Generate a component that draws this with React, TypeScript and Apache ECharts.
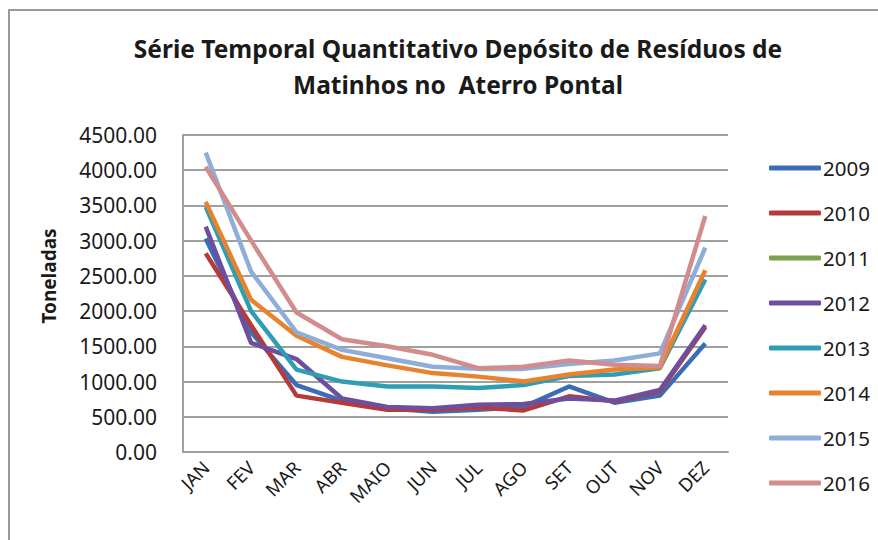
import React, { useEffect, useRef } from "react";
import * as echarts from "echarts";

const categories = ["JAN", "FEV", "MAR", "ABR", "MAIO", "JUN", "JUL", "AGO", "SET", "OUT", "NOV", "DEZ"];
const yTicks = [0, 500, 1000, 1500, 2000, 2500, 3000, 3500, 4000, 4500];
const years = ["2009", "2010", "2011", "2012", "2013", "2014", "2015", "2016"];
const s2009 = [3030, 1700, 950, 730, 620, 570, 600, 640, 930, 700, 800, 1540];
const s2010 = [2820, 1800, 800, 700, 600, 600, 630, 590, 790, 720, 860, 1770];
const s2011: (number | null)[] = [null, null, null, null, null, null, null, null, null, null, null, null];
const s2012 = [3200, 1550, 1320, 760, 640, 620, 670, 680, 760, 730, 880, 1800];
const s2013 = [3480, 2000, 1170, 1000, 930, 930, 910, 950, 1080, 1100, 1190, 2450];
const s2014 = [3550, 2160, 1650, 1350, 1230, 1120, 1070, 1000, 1100, 1170, 1200, 2580];
const s2015 = [4250, 2560, 1700, 1450, 1330, 1210, 1180, 1180, 1250, 1300, 1400, 2900];
const s2016 = [4050, 3000, 1980, 1600, 1500, 1380, 1190, 1210, 1300, 1240, 1220, 3350];
const seriesData = [s2009, s2010, s2011, s2012, s2013, s2014, s2015, s2016];
const colors = ["#3A6DB5", "#B73A3A", "#7FA14E", "#6E4E9E", "#2F9DB4", "#E8822E", "#8FADD9", "#D38C8C"];

const FONT = "'Noto Sans', sans-serif";

export default function App() {
  const ref = useRef<HTMLDivElement>(null);
  useEffect(() => {
    if (!ref.current) return;
    const chart = echarts.init(ref.current, undefined, { renderer: "svg" });
    chart.setOption({
      animation: false,
      backgroundColor: "#ffffff",
      color: colors,
      textStyle: { fontFamily: FONT },
      grid: { left: 183, top: 135, right: 150, bottom: 88, containLabel: false },
      graphic: [
        {
          type: "rect",
          shape: { x: 9, y: 10, width: 1000, height: 1000 },
          style: { fill: "none", stroke: "#9a9a9a", lineWidth: 2 },
          silent: true,
        },
        {
          type: "text",
          x: 458,
          y: 48,
          style: {
            text: "Série Temporal Quantitativo Depósito de Resíduos de",
            fontFamily: FONT,
            fontSize: 24.5,
            fontWeight: "bold",
            fill: "#1a1a1a",
            align: "center",
            verticalAlign: "middle",
          },
        },
        {
          type: "text",
          x: 458,
          y: 84,
          style: {
            text: "Matinhos no  Aterro Pontal",
            fontFamily: FONT,
            fontSize: 24.5,
            fontWeight: "bold",
            fill: "#1a1a1a",
            align: "center",
            verticalAlign: "middle",
          },
        },
        {
          type: "text",
          x: 49,
          y: 276,
          rotation: Math.PI / 2,
          style: {
            text: "Toneladas",
            fontFamily: FONT,
            fontSize: 19,
            fontWeight: "bold",
            fill: "#1a1a1a",
            align: "center",
            verticalAlign: "middle",
          },
        },
      ],
      legend: {
        orient: "vertical",
        left: 764,
        top: 152,
        icon: "roundRect",
        itemWidth: 52,
        itemHeight: 5,
        itemGap: 23,
        data: years,
        textStyle: { fontFamily: FONT, fontSize: 20.5, color: "#1a1a1a", lineHeight: 22, padding: [0, 0, 0, -3] },
      },
      xAxis: {
        type: "category",
        data: categories,
        boundaryGap: true,
        axisLine: { show: true, lineStyle: { color: "#a0a0a0", width: 2 } },
        axisTick: { show: false },
        axisLabel: { rotate: 45, fontSize: 18.5, color: "#1a1a1a", margin: 12, fontFamily: FONT, interval: 0 },
      },
      yAxis: {
        type: "value",
        min: 0,
        max: 4500,
        interval: 500,
        axisLine: { show: true, lineStyle: { color: "#a0a0a0", width: 2 } },
        axisTick: { show: false },
        splitLine: { show: true, lineStyle: { color: "#a0a0a0", width: 2 } },
        axisLabel: {
          fontSize: 21,
          color: "#1a1a1a",
          margin: 26,
          fontFamily: FONT,
          formatter: (v: number) => (yTicks.includes(v) ? v.toFixed(2) : ""),
        },
      },
      series: years.map((y, i) => ({
        name: y,
        type: "line",
        data: seriesData[i],
        showSymbol: false,
        symbol: "none",
        lineStyle: { width: 4.5, color: colors[i] },
        itemStyle: { color: colors[i] },
        connectNulls: false,
      })),
    });
    return () => chart.dispose();
  }, []);
  return <div ref={ref} style={{ width: 878, height: 540, position: "absolute", left: 0, top: 0 }} />;
}
